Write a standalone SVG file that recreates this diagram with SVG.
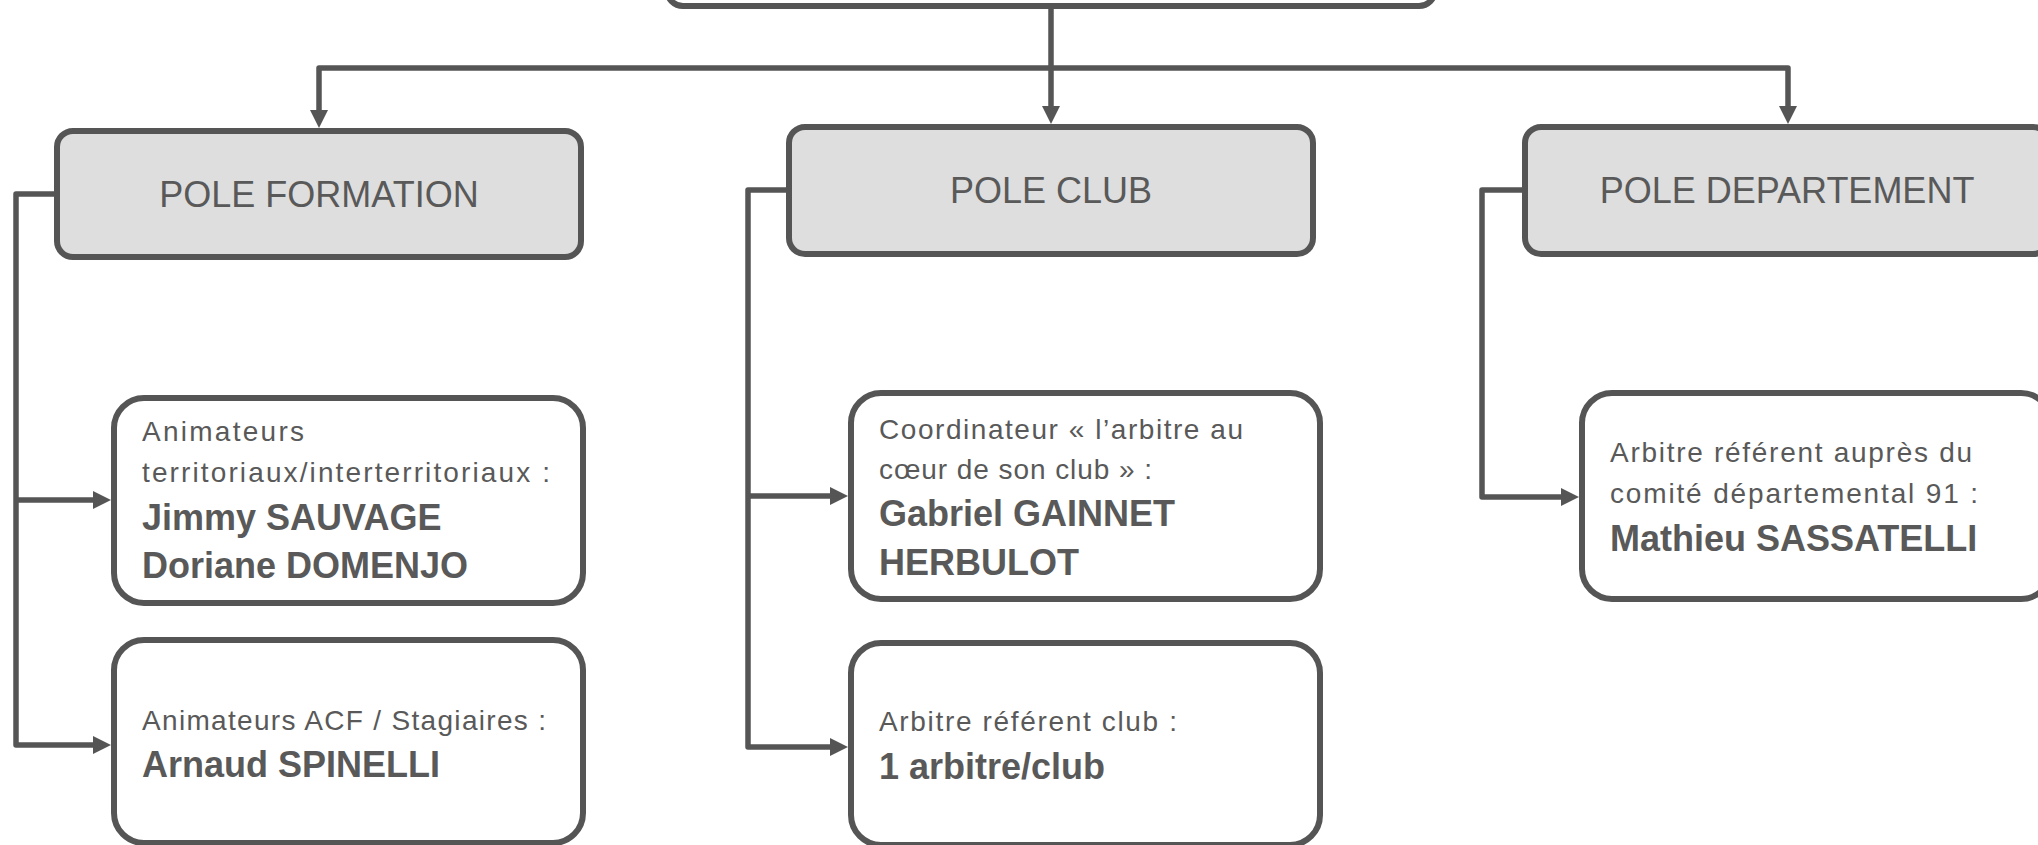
<svg xmlns="http://www.w3.org/2000/svg" width="2038" height="845" viewBox="0 0 2038 845">
<style>
.box{stroke:#555555;stroke-width:6}
.pole{fill:#dedede}
.child{fill:#ffffff}
.conn{fill:none;stroke:#555555;stroke-width:5.5;stroke-linejoin:round}
.t{font-family:"Liberation Sans",Arial,sans-serif;fill:#595959}
.title{font-size:36px}
.reg{font-size:28px}
.bold{font-size:36px;font-weight:bold}
</style>
<defs>
<marker id="arr" markerUnits="userSpaceOnUse" markerWidth="18" markerHeight="18" viewBox="0 0 18 18" refX="12" refY="9" orient="auto">
<path d="M0,0 L18,9 L0,18 z" fill="#555555"/>
</marker>
</defs>
<rect x="0" y="0" width="2038" height="845" fill="#ffffff"/>
<g id="connectors">
<path class="conn" d="M1051,6 V118" marker-end="url(#arr)"/>
<path class="conn" d="M1051,68 H319 V122" marker-end="url(#arr)"/>
<path class="conn" d="M1051,68 H1788 V118" marker-end="url(#arr)"/>
<path class="conn" d="M57,194 H16 V745 H105" marker-end="url(#arr)"/>
<path class="conn" d="M16,500 H105" marker-end="url(#arr)"/>
<path class="conn" d="M789,190 H748 V747 H842" marker-end="url(#arr)"/>
<path class="conn" d="M748,496 H842" marker-end="url(#arr)"/>
<path class="conn" d="M1525,190 H1482 V497 H1573" marker-end="url(#arr)"/>
</g>
<g id="top">
<rect class="box child" x="667" y="-100" width="768" height="106" rx="16"/>
</g>
<g id="pole-formation">
<rect class="box pole" x="57" y="131" width="524" height="126" rx="16"/>
<text class="t title" x="319" y="207" text-anchor="middle">POLE FORMATION</text>
</g>
<g id="pole-club">
<rect class="box pole" x="789" y="127" width="524" height="127" rx="16"/>
<text class="t title" x="1051" y="203" text-anchor="middle">POLE CLUB</text>
</g>
<g id="pole-departement">
<rect class="box pole" x="1525" y="127" width="524" height="127" rx="16"/>
<text class="t title" x="1787" y="203" text-anchor="middle">POLE DEPARTEMENT</text>
</g>
<g id="animateurs-territoriaux">
<rect class="box child" x="114" y="398" width="469" height="205" rx="30"/>
<text class="t reg" x="142" y="441" textLength="162" lengthAdjust="spacing">Animateurs</text>
<text class="t reg" x="142" y="482" textLength="408" lengthAdjust="spacing">territoriaux/interterritoriaux :</text>
<text class="t bold" x="142" y="530">Jimmy SAUVAGE</text>
<text class="t bold" x="142" y="578">Doriane DOMENJO</text>
</g>
<g id="animateurs-acf">
<rect class="box child" x="114" y="640" width="469" height="203" rx="30"/>
<text class="t reg" x="142" y="730" textLength="404" lengthAdjust="spacing">Animateurs ACF / Stagiaires :</text>
<text class="t bold" x="142" y="777">Arnaud SPINELLI</text>
</g>
<g id="coordinateur">
<rect class="box child" x="851" y="393" width="469" height="206" rx="30"/>
<text class="t reg" x="879" y="439" textLength="364" lengthAdjust="spacing">Coordinateur « l’arbitre au</text>
<text class="t reg" x="879" y="479" textLength="273" lengthAdjust="spacing">cœur de son club » :</text>
<text class="t bold" x="879" y="526">Gabriel GAINNET</text>
<text class="t bold" x="879" y="575">HERBULOT</text>
</g>
<g id="arbitre-referent-club">
<rect class="box child" x="851" y="643" width="469" height="202" rx="30"/>
<text class="t reg" x="879" y="731" textLength="298" lengthAdjust="spacing">Arbitre référent club :</text>
<text class="t bold" x="879" y="779">1 arbitre/club</text>
</g>
<g id="arbitre-departement">
<rect class="box child" x="1582" y="393" width="469" height="206" rx="30"/>
<text class="t reg" x="1610" y="462" textLength="362" lengthAdjust="spacing">Arbitre référent auprès du</text>
<text class="t reg" x="1610" y="503" textLength="368" lengthAdjust="spacing">comité départemental 91 :</text>
<text class="t bold" x="1610" y="551">Mathieu SASSATELLI</text>
</g>
</svg>
